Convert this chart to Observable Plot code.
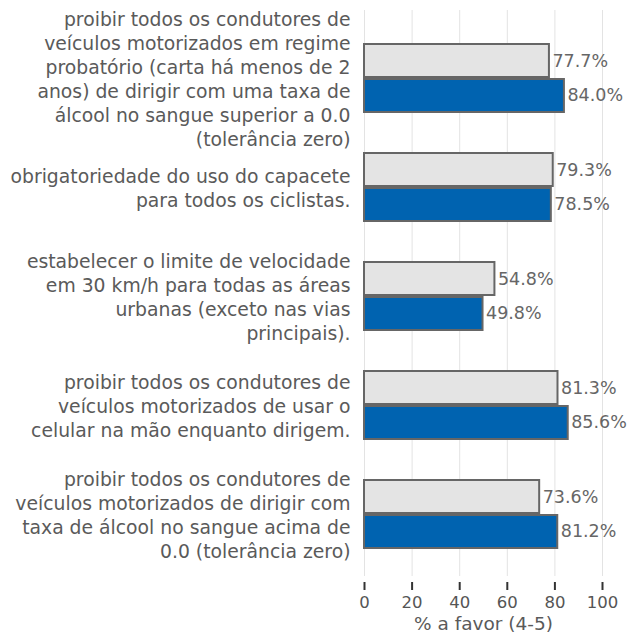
<!DOCTYPE html>
<html>
<head>
<meta charset="utf-8">
<script src="https://cdn.jsdelivr.net/npm/d3@7"></script>
<script src="https://cdn.jsdelivr.net/npm/@observablehq/plot@0.6"></script>
<style>
  html, body { margin: 0; padding: 0; background: #fff; }
  [aria-label^="x-axis"] line, [aria-label="x-axis tick"] path { stroke: #333; stroke-width: 2px; }
</style>
</head>
<body>
<div id="chart"></div>
<script>
const categories = [
  "proibir todos os condutores de\nveículos motorizados em regime\nprobatório (carta há menos de 2\nanos) de dirigir com uma taxa de\nálcool no sangue superior a 0.0\n(tolerância zero)",
  "obrigatoriedade do uso do capacete\npara todos os ciclistas.",
  "estabelecer o limite de velocidade\nem 30 km/h para todas as áreas\nurbanas (exceto nas vias\nprincipais).",
  "proibir todos os condutores de\nveículos motorizados de usar o\ncelular na mão enquanto dirigem.",
  "proibir todos os condutores de\nveículos motorizados de dirigir com\ntaxa de álcool no sangue acima de\n0.0 (tolerância zero)"
];
const seriesGrey = [77.7, 79.3, 54.8, 81.3, 73.6];
const seriesBlue = [84.0, 78.5, 49.8, 85.6, 81.2];
const xTicks = [0, 20, 40, 60, 80, 100];
const xLabel = "% a favor (4-5)";

const greyData = categories.map((c, i) => ({category: c, value: seriesGrey[i]}));
const blueData = categories.map((c, i) => ({category: c, value: seriesBlue[i]}));
const fmt = d => d.value.toFixed(1) + "%";

const chart = Plot.plot({
  width: 632,
  height: 639,
  marginLeft: 364,
  marginRight: 30,
  marginTop: 10,
  marginBottom: 57,
  style: {fontFamily: "DejaVu Sans", fontSize: "16.5px", color: "#555", background: "#fff"},
  x: {domain: [0, 100], ticks: xTicks, tickSize: 8, tickPadding: 6, label: null},
  y: {domain: categories, paddingInner: 0.378, paddingOuter: 0.31, axis: null},
  marks: [
    Plot.ruleX(xTicks, {stroke: "#e3e3e3", strokeWidth: 1, insetBottom: 6}),
    Plot.barX(greyData, {x: "value", y: "category", fill: "#e4e4e4", stroke: "#666", strokeWidth: 2, insetBottom: 35}),
    Plot.barX(blueData, {x: "value", y: "category", fill: "#0063b0", stroke: "#666", strokeWidth: 2, insetTop: 35}),
    Plot.text(greyData, {x: "value", y: "category", text: fmt, textAnchor: "start", dx: 3, dy: -17, fill: "#666", fontSize: 17.5}),
    Plot.text(blueData, {x: "value", y: "category", text: fmt, textAnchor: "start", dx: 3, dy: 17, fill: "#666", fontSize: 17.5}),
    Plot.text(categories, {y: d => d, text: d => d, frameAnchor: "left", textAnchor: "end", dx: -14, lineHeight: 1.27, fontSize: 18.8, fill: "#5a5a5a"}),
    Plot.text([xLabel], {text: d => d, frameAnchor: "bottom", dy: 47, fontSize: 18.5, fill: "#5a5a5a"})
  ]
});
document.getElementById("chart").appendChild(chart);
</script>
</body>
</html>
